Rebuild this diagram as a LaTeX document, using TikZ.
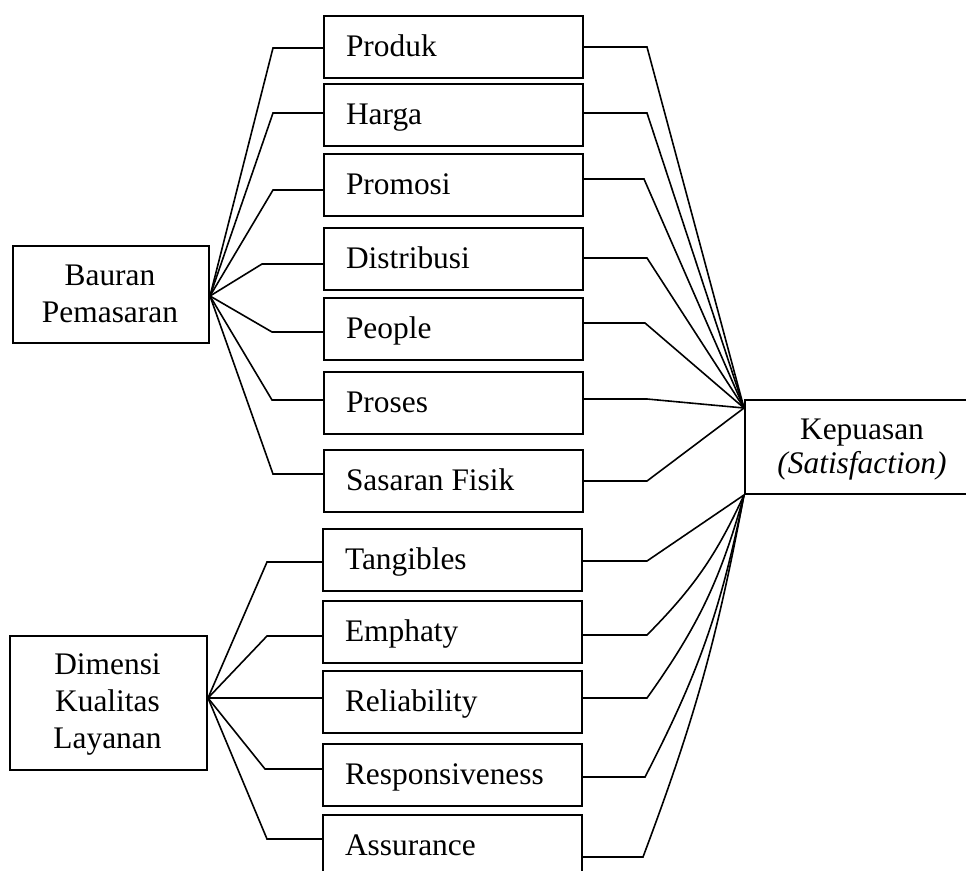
\documentclass[tikz,border=0pt]{standalone}
\usepackage{fontspec}
\setmainfont{Liberation Serif}
\newcommand\boxtext[1]{\makebox[215pt][l]{#1}}
\begin{document}
\begin{tikzpicture}[x=1pt,y=-1pt,
  every node/.style={font=\fontsize{31.4}{37}\selectfont},
  box/.style={draw, line width=2pt, minimum width=259pt, minimum height=62pt, anchor=north west,
    inner xsep=22pt, inner ysep=0pt, text height=24pt, text depth=6pt},
  bigbox/.style={draw, line width=2pt, anchor=north west, inner sep=0pt},
  txt/.style={anchor=base, align=center, inner sep=0pt},
  conn/.style={line width=1.6pt}]
\useasboundingbox (0,0) rectangle (966,870);

% left group boxes
\node[bigbox, minimum width=196pt, minimum height=97pt] (bauran) at (12,245) {};
\node[txt] (bauranT) at (110,322) {Bauran\\Pemasaran};
\node[bigbox, minimum width=197pt, minimum height=134pt] (dimensi) at (9,635) {};
\node[txt] (dimensiT) at (107.5,748) {Dimensi\\Kualitas\\Layanan};

% right box
\node[bigbox, minimum width=236pt, minimum height=94pt] (kepuasan) at (744,399) {};
\node[txt, font=\fontsize{31.4}{34}\selectfont] (kepuasanT) at (862,473) {Kepuasan\\\textit{(Satisfaction)}};

% middle boxes
\node[box] (produk) at (323,15) {\boxtext{Produk}};
\node[box] (harga) at (323,83) {\boxtext{Harga}};
\node[box] (promosi) at (323,153) {\boxtext{Promosi}};
\node[box] (distribusi) at (323,227) {\boxtext{Distribusi}};
\node[box] (people) at (323,297) {\boxtext{People}};
\node[box] (proses) at (323,371) {\boxtext{Proses}};
\node[box] (sasaran) at (323,449) {\boxtext{Sasaran Fisik}};
\node[box] (tangibles) at (322,528) {\boxtext{Tangibles}};
\node[box] (emphaty) at (322,600) {\boxtext{Emphaty}};
\node[box] (reliability) at (322,670) {\boxtext{Reliability}};
\node[box] (responsiveness) at (322,743) {\boxtext{Responsiveness}};
\node[box] (assurance) at (322,814) {\boxtext{Assurance}};

% fan points
\coordinate (fanL1) at ([yshift=-1.5pt]bauran.east);
\coordinate (fanL2) at ([yshift=5pt]dimensi.east);
\coordinate (fanR1) at ([yshift=-9pt]kepuasan.north west);
\coordinate (fanR2) at (kepuasan.south west);

% left connectors, upper group
\draw[conn] ([yshift=-1pt]produk.west) -- ++(-50,0) -- (fanL1);
\draw[conn] ([yshift=2pt]harga.west) -- ++(-50,0) -- (fanL1);
\draw[conn] ([yshift=-5pt]promosi.west) -- ++(-50,0) -- (fanL1);
\draw[conn] ([yshift=-5pt]distribusi.west) -- ++(-61,0) -- (fanL1);
\draw[conn] ([yshift=-3pt]people.west) -- ++(-51,0) -- (fanL1);
\draw[conn] ([yshift=3pt]proses.west) -- ++(-51,0) -- (fanL1);
\draw[conn] ([yshift=7pt]sasaran.west) -- ++(-50,0) -- (fanL1);

% right connectors, upper group
\draw[conn] (produk.east) -- ++(63,0) -- (fanR1);
\draw[conn] ([yshift=2pt]harga.east) -- ++(63,0) -- (fanR1);
\draw[conn] ([yshift=6pt]promosi.east) -- ++(60,0) -- (fanR1);
\draw[conn] ([yshift=1pt]distribusi.east) -- ++(63,0) -- (fanR1);
\draw[conn] ([yshift=6pt]people.east) -- ++(61,0) -- (fanR1);
\draw[conn] ([yshift=4pt]proses.east) -- ++(63,0) -- (fanR1);
\draw[conn] (sasaran.east) -- ++(63,0) -- (fanR1);

% left connectors, lower group
\draw[conn] ([yshift=-2pt]tangibles.west) -- ++(-55,0) -- (fanL2);
\draw[conn] ([yshift=-4pt]emphaty.west) -- ++(-55,0) -- (fanL2);
\draw[conn] ([yshift=4pt]reliability.west) -- (fanL2);
\draw[conn] ([yshift=6pt]responsiveness.west) -- ++(-57,0) -- (fanL2);
\draw[conn] ([yshift=7pt]assurance.west) -- ++(-55,0) -- (fanL2);

% right connectors, lower group
\draw[conn] ([yshift=-1pt]tangibles.east) -- ++(64,0) -- (fanR2);
\draw[conn] ([yshift=-3pt]emphaty.east) -- ++(64,0) to[bend right=10] (fanR2);
\draw[conn] ([yshift=4pt]reliability.east) -- ++(64,0) to[bend right=10] (fanR2);
\draw[conn] ([yshift=-2pt]responsiveness.east) -- ++(62,0) to[bend right=8] (fanR2);
\draw[conn] ([yshift=-11pt]assurance.east) -- ++(60,0) to[bend right=5] (fanR2);
\end{tikzpicture}
\end{document}
